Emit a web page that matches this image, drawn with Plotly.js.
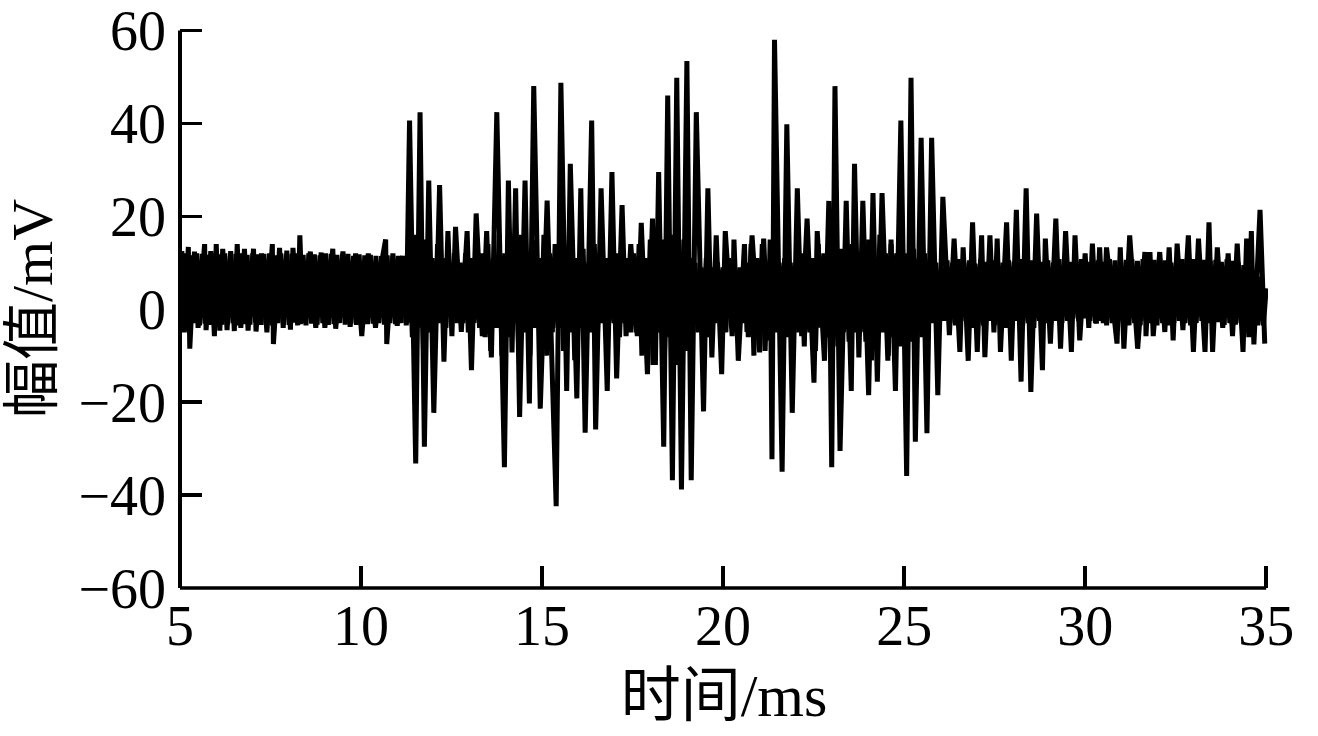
<!DOCTYPE html>
<html><head><meta charset="utf-8">
<script src="https://cdn.plot.ly/plotly-3.0.1.min.js"></script>
<style>html,body{margin:0;padding:0;background:#fff}#c{width:1318px;height:736px}</style>
</head><body><div id="c"></div>
<script>
var xTitle = "时间/ms";
var yTitle = "幅值/mV";
var xTicks = [5,10,15,20,25,30,35];
var yTicks = [-60,-40,-20,0,20,40,60];

// Peaks, in time order (ms, mV)
var peakTimes = [5.05,5.12,5.23,5.27,5.4,5.5,5.68,5.72,5.85,5.95,6.0,6.1,6.18,6.3,6.4,6.5,6.58,6.68,6.78,6.88,7.03,7.1,7.25,7.4,7.55,7.58,7.75,7.85,7.95,8.05,8.12,8.25,8.31,8.4,8.6,8.75,8.9,9.0,9.22,9.3,9.5,9.7,9.85,10.02,10.2,10.4,10.6,10.68,10.71,10.88,11.0,11.15,11.25,
11.34,11.51,11.63,11.75,11.87,12.01,12.17,12.29,12.40,12.51,12.61,12.77,12.93,13.05,13.18,13.35,13.47,13.6,13.75,13.96,14.07,14.17,14.27,14.38,14.53,14.65,14.77,14.95,15.14,15.39,15.52,15.68,15.78,15.96,16.07,16.19,16.37,16.48,16.63,16.8,16.93,17.06,17.21,17.32,17.45,17.63,17.74,17.91,18.05,18.13,18.22,18.36,18.47,18.6,18.72,18.85,19.0,19.12,19.26,19.46,19.58,19.69,19.81,19.96,20.06,20.25,20.30,20.42,20.59,20.66,20.80,21.01,21.12,21.24,21.30,21.35,21.42,21.63,21.76,21.91,22.05,22.17,22.32,22.51,22.6,22.8,22.92,23.0,23.09,23.23,23.40,23.54,23.63,23.75,23.86,24.02,24.14,24.26,24.39,24.55,24.64,24.76,24.91,25.07,25.19,25.31,25.47,25.63,25.76,25.93,26.07,26.25,26.38,26.54,26.63,26.77,26.89,27.02,27.14,27.23,27.37,27.48,27.57,27.66,27.83,27.96,28.1,28.23,28.37,28.5,28.66,28.82,28.9,29.04,29.19,29.32,29.46,29.62,29.72,29.85,30.0,30.1,30.2,30.31,30.4,30.5,30.59,30.88,30.97,31.07,31.23,31.45,31.65,31.68,31.79,31.88,32.06,32.2,32.32,32.43,32.54,32.7,32.85,32.99,33.13,33.31,33.42,33.52,33.65,33.8,33.95,34.07,34.2,34.36,34.46,34.52,34.59,34.66,34.83,34.96];
var peakValues = [12.5,-5,13.4,-8.5,12.4,-4,14,-4.5,12.5,-5.8,14,-4.6,13,-4.5,12.5,-4.7,14,-4,13,-4.6,13,-4.8,12,-5,14,-7.5,13.2,-4,12.6,-4.4,13.2,-3.5,15.9,-3,12.4,-4,12.2,-4,13,-4.2,12.4,-3.8,12,-5.8,12,-4,11.5,15,-7.5,12,-3.6,11.5,-3.5,
40.6,-33.2,42.4,-29.6,27.7,-22.3,26.7,-11.3,16.8,-5.8,17.7,-4.9,16.8,-13.1,20.6,-5.8,16.8,-10.4,42.4,-34,27.7,-9.3,26,-23.2,27.7,-20.3,48,-21.4,23.4,-42.4,48.7,-17.6,31.3,-19.2,26,-26.6,40.6,-25.9,26,-17.6,29.5,-14.9,22.4,-5.8,14,-5.8,18.6,-14,19.5,-12,29.5,-29.6,46,-36.8,49.8,-38.8,53.4,-36.8,42.4,-22,26,-10.4,15.9,-14,16.8,-5.8,15,-11.1,14,-4.9,15.9,-9.3,15.2,-6.7,15,-32.3,58,-35,39.8,-22.3,26,-5.8,19.5,-15.8,16.8,-11.1,23.3,-34,48,-30.5,23.3,-17.6,31.3,-10.4,23.3,-18.5,25,-15.6,25,-11.1,14,-17.6,40.6,-35.9,49.8,-28.5,36.9,-26.7,36.9,-18.5,24.2,-5.6,15.2,-9.2,13.3,-11.1,18.7,-9.2,15.9,-10.3,15.9,-5,15.2,-9.2,18.7,-11.1,21.4,-15.6,26,-17.8,20.6,-13.1,15.2,-7.4,19.5,-8.5,16.8,-9.2,15.9,-6.7,12,-4,14.1,-3.1,13.3,-3,13.3,-7.4,13.3,-8.5,15.9,-8.5,12.3,-5.8,12.3,-5.8,12.3,-4.9,13.3,-6.7,14.1,-4.5,15.9,-9.2,15.2,-9.2,18.7,-9.2,13.3,-4,12,-5.8,14.1,-9.2,15.2,-6,16.8,-7.6,21.4,-7.4];

// Dense carrier band under the peaks, evenly sampled across the record
var carrierA = [11.8,-3.2,12,-3.4,11.6,-3,12,-3.5,11.9,-3.1,11.7,-3.4,12,-2.9,11.8,-3.3,12,-3.4,11.5,-3,11.9,-3.5,12,-3.2,11.7,-3.3,12,-2.8,11.8,-3.4,11.9,-3.1,12,-3.5,11.6,-3,12,-3.3,11.8,-3.4,11.9,-2.9,12,-3.2,11.7,-3.5,12,-3.1,11.8,-3.3,11.6,-3,12,-3.4,11.9,-3.2,11.7,-3,11.8,-3.3,11.9,-3.1,11.5,-3.4,11.8,-3,11.6,-3.2,11.7,-3.1,11.5,-3,11.4,-3.3,11.6,-3,11.3,-3.2,11.5,-3,11.4];
var carrierB = [-3,12,-6,16,-4,12,-9,15,-5,11,-8,14,
-3,11,-4,10,-2,12,-3,10,-3,12,-5,11,-3,10,-4,12,
-6,14,-9,11,-4,16,-10,12,-6,15,-3,11,-9,16,-5,12,-10,15,-4,11,-8,16,-10,12,-5,14,
-4,14,-9,10,-5,15,-11,11,-4,13,-10,10,-5,14,-8,12,
-3,11,-4,10,-3,12,-6,10,-3,11,-5,12,
-5,14,-10,11,-6,15,-12,12,-5,15,-11,11,-6,16,-12,12,-5,15,-9,11,
-3,10,-5,9,-3,11,-6,9,-3,10,-3,9,-5,11,-2,10,-4,9,-3,10,
-6,14,-10,11,-5,14,-9,10,-3,13,-5,10,
-3,11,-6,10,-3,10,-5,12,
-8,15,-5,11,-9,14,-4,12,-6,14,-4,10,-8,13,-5,11,-7,14,-5,12,-5,11,-7,15,-11,11,-9,16,-5,12,-10,15,-6,12,-8,15,-5,12,-7,13,-5,11,-6,12,
-4,11,-3,10,-4,9];
var carrierC = [-2.5,10.5,-3,10,-3.5,10.8,-2.5,10,-3,10.5,-4,9.8,-3,10.8,-3.5,10.2,-2.5,10.5,-3.5,10.8,-3,10,-4,10.5,-3,10.2,-2.5,10.8,-3.5,10,-3,10.5,-4,10.8,-2.5,10.2,-3,10.5,-3.5,10,-2.5,10.8,-3,10.5,-2.5,10.2,-2,10.5,-2.5,10.8,-2,10.2,-2.5,10.6,-3,10.5,-2.5,10.2,-3.5,10.8,-3,10.5,-2.5,10.2,-3,10.6,-3.5,10.8,-3,10.4,-3.5,10.8,-2.5,10.2,-3,10.6,-3.5,10.8,-3,10.5,-3.5,10,-3,10.6,-2.5,10.8,-3,10.4,-3.5,10.8,-3,10.2,-2.5,10.6,-3,10.4,-3.2,10.6,-2.8,10.2,-3.4,10.7,-3,10.4,-3.3,10,-3,9.5,-3.4,9,-3.2,8,-3.5,7,-3.5,4.5];

var carrierValues = carrierA.concat(carrierB, carrierC);
var carrierTimes = carrierValues.map(function(_, i){ return 5 + i * 30 / (carrierValues.length - 1); });

var ink = "#000000";
var fontFam = '"Liberation Serif","Noto Sans CJK SC",serif';
var traceWidth = 5;
var xMax = 35.05, yMax = 60.3;

Plotly.newPlot("c", [
  {type:"scatter", mode:"lines", x:carrierTimes, y:carrierValues, line:{color:ink, width:traceWidth, simplify:false}, hoverinfo:"skip", cliponaxis:false},
  {type:"scatter", mode:"lines", x:peakTimes, y:peakValues, line:{color:ink, width:traceWidth, simplify:false}, hoverinfo:"skip", cliponaxis:false}
], {
  width:1318, height:736, showlegend:false,
  paper_bgcolor:"#fff", plot_bgcolor:"#fff",
  margin:{l:180, r:50, t:29, b:148, pad:0},
  font:{family:fontFam, color:ink, size:56},
  shapes:[
    {type:"line", xref:"paper", yref:"paper", x0:0, x1:30/(xMax-5), y0:0, y1:0, line:{color:ink,width:3.5}},
    {type:"line", xref:"paper", yref:"paper", x0:0, x1:0, y0:0, y1:120/(yMax+60), line:{color:ink,width:4}}
  ],
  xaxis:{range:[5,xMax], tickmode:"array", tickvals:xTicks, ticks:"inside", ticklen:22, tickwidth:3.5, tickcolor:ink,
    showline:false, showgrid:false, zeroline:false, tickfont:{family:fontFam,size:56,color:ink}, ticklabelstandoff:0, ticklabeloverflow:"allow",
    title:{text:xTitle, font:{family:fontFam,size:60,color:ink}, standoff:17}},
  yaxis:{range:[-60,yMax], tickmode:"array", tickvals:yTicks, ticks:"inside", ticklen:22, tickwidth:3.5, tickcolor:ink,
    showline:false, showgrid:false, zeroline:false, tickfont:{family:fontFam,size:56,color:ink}, ticklabelstandoff:13, ticklabeloverflow:"allow",
    title:{text:yTitle, font:{family:fontFam,size:58,color:ink}, standoff:8}}
}, {displayModeBar:false, staticPlot:true});
</script></body></html>
